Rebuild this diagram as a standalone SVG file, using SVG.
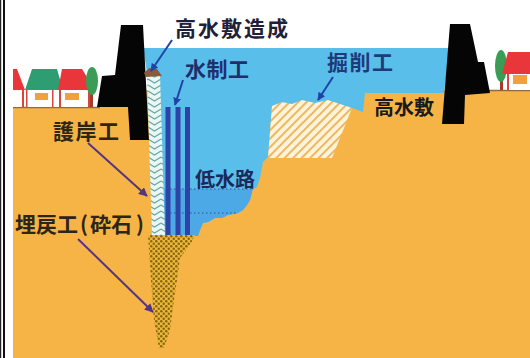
<svg xmlns="http://www.w3.org/2000/svg" width="530" height="358" viewBox="0 0 530 358">
  <style>
    .lbl { font-family: "Noto Sans CJK JP", "Noto Sans", sans-serif; font-weight: bold; }
    .levee { fill: #050505; }
    .roof-red { fill: #E8363B; }
    .roof-green { fill: #2E9E72; }
    .wall { fill: #FFFFFF; }
    .win { fill: #F3A03A; }
    .post { fill: #D8453A; }
    .tree { fill: #3C9C55; }
    .trunk { fill: #A83A2A; }
    .arrow-blue { stroke: #1E44A8; stroke-width: 2; fill: none; marker-end: url(#headBlue); }
    .arrow-purple { stroke: #563482; stroke-width: 2; fill: none; marker-end: url(#headPurple); }
  </style>
  <defs>
    <marker id="headBlue" viewBox="0 0 10 10" refX="9" refY="5" markerWidth="8" markerHeight="8" markerUnits="userSpaceOnUse" orient="auto">
      <path d="M0,0 L10,5 L0,10 Z" fill="#1E44A8"/>
    </marker>
    <marker id="headPurple" viewBox="0 0 10 10" refX="9" refY="5" markerWidth="9" markerHeight="9" markerUnits="userSpaceOnUse" orient="auto">
      <path d="M0,0 L10,5 L0,10 Z" fill="#563482"/>
    </marker>
    <!-- chevron facing for the revetment -->
    <pattern id="chev" width="13" height="6" patternUnits="userSpaceOnUse" x="148" y="0">
      <rect width="13" height="6" fill="#EAF7F3"/>
      <path d="M0,1 L6.5,5 L13,1" stroke="#6BA8A5" stroke-width="1.2" fill="none"/>
    </pattern>
    <!-- diagonal hatch for the excavated part -->
    <pattern id="hatch" width="6" height="6" patternUnits="userSpaceOnUse" patternTransform="rotate(45)">
      <rect width="6" height="6" fill="#FFF3D8"/>
      <rect width="2" height="6" fill="#EDB865"/>
    </pattern>
    <!-- crushed stone backfill -->
    <pattern id="gravel" width="5" height="5" patternUnits="userSpaceOnUse">
      <rect width="5" height="5" fill="#EAB838"/>
      <circle cx="1.25" cy="1.25" r="1.25" fill="#8A6412"/>
      <circle cx="3.75" cy="3.75" r="1.25" fill="#8A6412"/>
    </pattern>
  </defs>

  <!-- background and frame -->
  <rect width="530" height="358" fill="#FFFFFF"/>
  <rect x="0" y="0" width="1.2" height="358" fill="#222"/>
  <rect x="3" y="0" width="2" height="358" fill="#111"/>

  <!-- ground -->
  <g id="ground">
    <rect x="13" y="90" width="517" height="268" fill="#F6B447"/>
    <rect x="13" y="90" width="88" height="17" fill="#FFFFFF"/>
    <line x1="13" y1="107.5" x2="100" y2="107.5" stroke="#8E6C3E" stroke-width="1.5"/>
    <line x1="488" y1="90.5" x2="530" y2="90.5" stroke="#8E6C3E" stroke-width="1.5"/>
  </g>

  <!-- river water -->
  <g id="water">
    <path d="M143,48 H450 L444,93 H365 L363,112 L352,108 L272,106 L268,157 L263,162 L260,178 L257,187 L252,190 L250,200 L247,205 L243,210 L238,213 L228,215 L222,218 L215,218 L208,222 L203,223 L200,230 L198,236 H160 L147,73 Z" fill="#59BEEA"/>
    <path d="M163,189 H253 L250,200 L247,205 L243,210 L238,213 L228,215 L222,218 L215,218 L208,222 L203,223 L200,230 L198,236 H163 Z" fill="#4CA9E6"/>
    <line x1="170" y1="189" x2="251" y2="189" stroke="#2C4C9C" stroke-width="1.2" stroke-dasharray="1.5 2.5"/>
    <line x1="170" y1="213" x2="238" y2="213" stroke="#2C4C9C" stroke-width="1.2" stroke-dasharray="1.5 2.5"/>
  </g>

  <!-- houses and trees -->
  <g id="houses-left">
    <rect x="13" y="90" width="10" height="17" class="wall"/>
    <path d="M13,69 L17,69 L25,90 L13,90 Z" class="roof-red"/>
    <rect x="22" y="90" width="2" height="17" class="post"/>
    <rect x="26" y="90" width="35" height="17" class="wall"/>
    <path d="M32,69 L57,69 L63,90 L25,90 Z" class="roof-green"/>
    <rect x="26" y="90" width="1.5" height="17" class="post"/>
    <rect x="35" y="93" width="13" height="7" class="win"/>
    <rect x="52" y="90" width="1.5" height="17" class="post"/>
    <rect x="59" y="90" width="33" height="17" class="wall"/>
    <path d="M62,69 L82,69 L95,90 L58,90 Z" class="roof-red"/>
    <rect x="59" y="90" width="2" height="17" class="post"/>
    <rect x="65" y="93" width="14" height="7" class="win"/>
    <rect x="88" y="90" width="2" height="17" class="post"/>
    <rect x="90" y="88" width="3" height="19" class="trunk"/>
    <ellipse cx="92" cy="81" rx="6" ry="14" class="tree"/>
  </g>
  <g id="houses-right">
    <rect x="500" y="78" width="3" height="12" class="trunk"/>
    <ellipse cx="501" cy="66" rx="6" ry="16" class="tree"/>
    <rect x="506" y="74" width="24" height="16" class="wall"/>
    <path d="M508,52 L530,52 L530,74 L502,74 Z" class="roof-red"/>
    <rect x="507" y="74" width="2" height="16" class="post"/>
    <rect x="513" y="75" width="14" height="9" class="win"/>
  </g>

  <!-- levees -->
  <g id="levee-left">
    <path class="levee" d="M121,25 L143,25 L149,140 L130,140 L128,107 L97,107 L102,76 L115,75 Z"/>
  </g>
  <g id="levee-right">
    <path class="levee" d="M450,24 L470,24 L478,62 L484,62 L490,93 L465,95 L464,124 L442,124 Z"/>
  </g>

  <!-- excavated part -->
  <g id="excavation">
    <path d="M272,106 L282,102 L292,104 L302,100 L315,103 L328,100 L340,104 L352,108 L332,158 L268,158 Z" fill="url(#hatch)"/>
  </g>

  <!-- revetment with its high-water-bed cap -->
  <g id="revetment">
    <path d="M147,74 L160,74 L165,236 L152,236 Z" fill="url(#chev)"/>
    <path d="M144,73 L149,68 L157,69 L162,76 L146,77 Z" fill="#8A5A3C"/>
  </g>

  <!-- groyne piles -->
  <g id="groyne">
    <rect x="165.5" y="107" width="5" height="129" fill="#2D43A6"/>
    <rect x="175.5" y="107" width="5" height="129" fill="#2D43A6"/>
    <rect x="185" y="107" width="5" height="129" fill="#2D43A6"/>
  </g>

  <!-- crushed stone backfill -->
  <g id="backfill">
    <path d="M148,235 L195,235 L190,245 L180,258 L177,280 L174,300 L170,330 L164,348 L159,348 L154,320 L151,280 Z" fill="url(#gravel)"/>
  </g>

  <!-- leader arrows -->
  <g id="connectors">
    <line class="arrow-blue" x1="172" y1="40" x2="151" y2="71"/>
    <line class="arrow-blue" x1="183" y1="80" x2="175" y2="105"/>
    <line class="arrow-blue" x1="333" y1="77" x2="318" y2="100"/>
    <line class="arrow-purple" x1="88" y1="143" x2="147" y2="196"/>
    <line class="arrow-purple" x1="78" y1="239" x2="153" y2="312"/>
  </g>

  <!-- labels -->
  <g id="label-kousuishiki-zousei"><text class="lbl" x="175" y="35.5" font-size="21" textLength="113" fill="#1E2138">高水敷造成</text></g>
  <g id="label-suiseikou"><text class="lbl" x="185" y="77" font-size="21" textLength="64" fill="#1F2F6A">水制工</text></g>
  <g id="label-kussakukou"><text class="lbl" x="327" y="70" font-size="21" textLength="66" fill="#1F3A78">掘削工</text></g>
  <g id="label-kousuishiki"><text class="lbl" x="374" y="115" font-size="20" fill="#1A1A1A">高水敷</text></g>
  <g id="label-gogankou"><text class="lbl" x="53" y="138.5" font-size="21" textLength="66" fill="#2E2519">護岸工</text></g>
  <g id="label-teisuiro"><text class="lbl" x="195" y="186.5" font-size="20" fill="#1B2A5A">低水路</text></g>
  <g id="label-umemodoshi"><text class="lbl" y="231.5" font-size="21" fill="#2E2519"><tspan x="15">埋戻工</tspan><tspan x="80">(</tspan><tspan x="90">砕石</tspan><tspan x="136">)</tspan></text></g>
</svg>
